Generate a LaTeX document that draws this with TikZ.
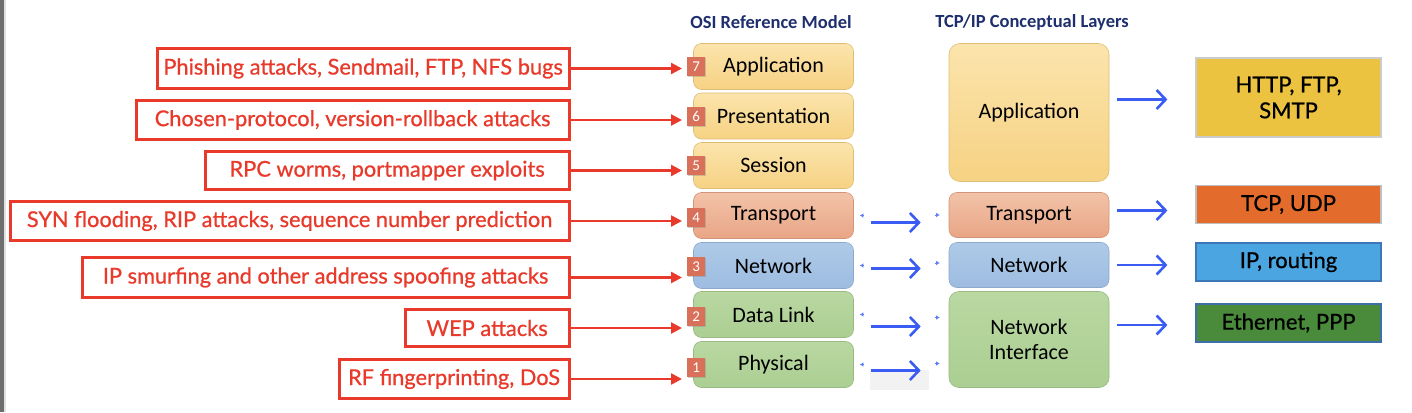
\documentclass[tikz,border=0pt]{standalone}
\usepackage{fontspec}
\setmainfont{Carlito}
\newfontfamily\gillfont{Lato}[FakeBold=0.7]
\usetikzlibrary{arrows.meta,positioning,calc,shadows}

\definecolor{atkred}{HTML}{E8392A}
\definecolor{titleblue}{HTML}{1F2F6E}
\definecolor{arrblue}{HTML}{3A5CF2}
\definecolor{badgecol}{HTML}{D9705A}
\definecolor{appltop}{HTML}{FBE4AC}
\definecolor{applbot}{HTML}{F6D283}
\definecolor{transtop}{HTML}{F2C3A9}
\definecolor{transbot}{HTML}{E9A585}
\definecolor{netwtop}{HTML}{AECAE8}
\definecolor{netwbot}{HTML}{9DBCE0}
\definecolor{linktop}{HTML}{B9D8A2}
\definecolor{linkbot}{HTML}{ABCE92}

\tikzset{
  attack/.style={draw=atkred, line width=2.8pt, fill=white, text=atkred,
    font={\gillfont\fontsize{21.8}{26}\selectfont}, anchor=east, inner sep=0pt},
  redarrow/.style={draw=atkred, line width=2.4pt, -{Triangle[length=11pt,width=11pt]}},
  layer/.style={rounded corners=8pt, line width=.6pt, minimum width=160pt,
    font={\fontsize{22}{25}\selectfont}, align=center, inner sep=0pt},
  appl/.style={layer, draw=applbot!90!black, top color=appltop, bottom color=applbot},
  trans/.style={layer, draw=transbot!90!black, top color=transtop, bottom color=transbot},
  netw/.style={layer, draw=netwbot!90!black, top color=netwtop, bottom color=netwbot},
  link/.style={layer, draw=linkbot!90!black, top color=linktop, bottom color=linkbot},
  badge/.style={fill=badgecol, text=white, font={\fontsize{15}{15}\selectfont},
    minimum width=18pt, minimum height=19pt, inner sep=0pt,
    drop shadow={opacity=.35, shadow xshift=1.2pt, shadow yshift=-1.2pt}},
  bluearrow/.style={draw=arrblue, line width=2.6pt, -{Straight Barb[length=9pt,width=19pt]}},
  tipmark/.style={draw=arrblue!80, line width=.8pt, -{Latex[length=3.5pt,width=4.5pt]}},
  proto/.style={line width=1.2pt, minimum width=185pt, inner sep=0pt, align=center,
    font={\gillfont\fontsize{22}{26}\selectfont}},
  heading/.style={text=titleblue, font={\bfseries\fontsize{18.5}{21}\selectfont}}
}

\begin{document}
\begin{tikzpicture}[x=1pt,y=-1pt]
\useasboundingbox (0,0) rectangle (1412,412);
\fill[white] (0,0) rectangle (1412,412);
\fill[black!57] (0,0) rectangle (4,412);
\fill[black!12] (4,0) rectangle (6,412);

% headings
\node[heading] (osihead) at (771,22) {OSI Reference Model};
\node[heading] (tcphead) at (1032,22) {TCP/IP Conceptual Layers};

% OSI layers
\node[appl, minimum height=46pt] (o7) at (773.5,66.5) {Application};
\node[appl, minimum height=46pt] (o6) at (773.5,116) {Presentation};
\node[appl, minimum height=46pt] (o5) at (773.5,165.5) {Session};
\node[trans, minimum height=46pt] (o4) at (773.5,215.5) {Transport};
\node[netw, minimum height=46pt] (o3) at (773.5,265.5) {Network};
\node[link, minimum height=46pt] (o2) at (773.5,314.5) {Data Link};
\node[link, minimum height=46pt] (o1) at (773.5,364.5) {Physical};

% layer numbers
\node[badge] (b7) at ($(o7.west)+(3,0)$) {7};
\node[badge] (b6) at ($(o6.west)+(3,0)$) {6};
\node[badge] (b5) at ($(o5.west)+(3,0)$) {5};
\node[badge] (b4) at ($(o4.west)+(3,2)$) {4};
\node[badge] (b3) at ($(o3.west)+(3,1)$) {3};
\node[badge] (b2) at ($(o2.west)+(3,2)$) {2};
\node[badge] (b1) at ($(o1.west)+(3,3)$) {1};

% TCP/IP layers
\node[appl, minimum height=138pt, rounded corners=11pt] (tA) at (1029,112.5) {Application};
\node[trans, minimum height=45pt] (tT) at (1029,215) {Transport};
\node[netw, minimum height=45pt] (tN) at (1029,265) {Network};
\node[link, minimum height=96pt, rounded corners=10pt] (tI) at (1029,339.5) {Network\\Interface};

% protocols
\node[proto, draw=black!20, fill={rgb,255:red,235;green,195;blue,64}, minimum height=79pt] (pA) at (1288.5,97.5) {HTTP, FTP,\\SMTP};
\node[proto, draw=black!25, fill={rgb,255:red,227;green,108;blue,44}, minimum height=38pt] (pT) at (1288.5,204.5) {TCP, UDP};
\node[proto, draw={rgb,255:red,60;green,120;blue,184}, fill={rgb,255:red,75;green,165;blue,224}, minimum height=38pt] (pN) at (1288.5,262) {IP, routing};
\node[proto, draw={rgb,255:red,63;green,111;blue,168}, fill={rgb,255:red,74;green,139;blue,59}, minimum height=38pt] (pI) at (1288.5,323) {Ethernet, PPP};

% attacks
\node[attack, minimum width=412pt, minimum height=40pt] (a7) at (570.5,68.5) {Phishing attacks, Sendmail, FTP, NFS bugs};
\node[attack, minimum width=433pt, minimum height=39pt] (a6) at (570.5,120) {Chosen-protocol, version-rollback attacks};
\node[attack, minimum width=364pt, minimum height=38pt] (a5) at (570.5,170.5) {RPC worms, portmapper exploits};
\node[attack, minimum width=559pt, minimum height=39pt] (a4) at (570.5,221) {SYN flooding, RIP attacks, sequence number prediction};
\node[attack, minimum width=487pt, minimum height=40pt] (a3) at (570.5,277.5) {IP smurfing and other address spoofing attacks};
\node[attack, minimum width=164pt, minimum height=37pt] (a2) at (570.5,328) {WEP attacks};
\node[attack, minimum width=230pt, minimum height=39pt] (a1) at (570.5,379) {RF fingerprinting, DoS};

\draw[redarrow] (a7.east) -- ($(a7.east -| b7.west)+(-5,0)$);
\draw[redarrow] (a6.east) -- ($(a6.east -| b6.west)+(-5,0)$);
\draw[redarrow] (a5.east) -- ($(a5.east -| b5.west)+(-5,0)$);
\draw[redarrow] (a4.east) -- ($(a4.east -| b4.west)+(-5,0)$);
\draw[redarrow] (a3.east) -- ($(a3.east -| b3.west)+(-5,0)$);
\draw[redarrow] (a2.east) -- ($(a2.east -| b2.west)+(-5,0)$);
\draw[redarrow] (a1.east) -- ($(a1.east -| b1.west)+(-5,0)$);

% OSI to TCP/IP
\fill[black!5] ($(o1.east)+(16,5)$) rectangle ($(tI.west)+(-20,50)$);
\foreach \o/\t/\dy/\ty in {o4/tT/7/0, o3/tN/3/-2, o2/tI/12/-22, o1/tI/6/24} {
  \draw[tipmark] ($(\o.east)+(10,0)$) -- ++(-4,0);
  \draw[tipmark] ($(\t.west)+(-14,\ty)$) -- ++(5,0);
  \draw[bluearrow] ($(\o.east)+(17,\dy)$) -- ($(\t.west |- \o.east)+(-28,\dy)$);
}

% TCP/IP to protocols
\draw[bluearrow] ($(tA.east |- pA.west)+(8,2)$) -- ($(pA.west)+(-28,2)$);
\draw[bluearrow] ($(tT.east |- pT.west)+(8,6)$) -- ($(pT.west)+(-28,6)$);
\draw[bluearrow] ($(tN.east |- pN.west)+(8,3)$) -- ($(pN.west)+(-28,3)$);
\draw[bluearrow] ($(tI.east |- pI.west)+(8,2)$) -- ($(pI.west)+(-28,2)$);
\end{tikzpicture}
\end{document}
